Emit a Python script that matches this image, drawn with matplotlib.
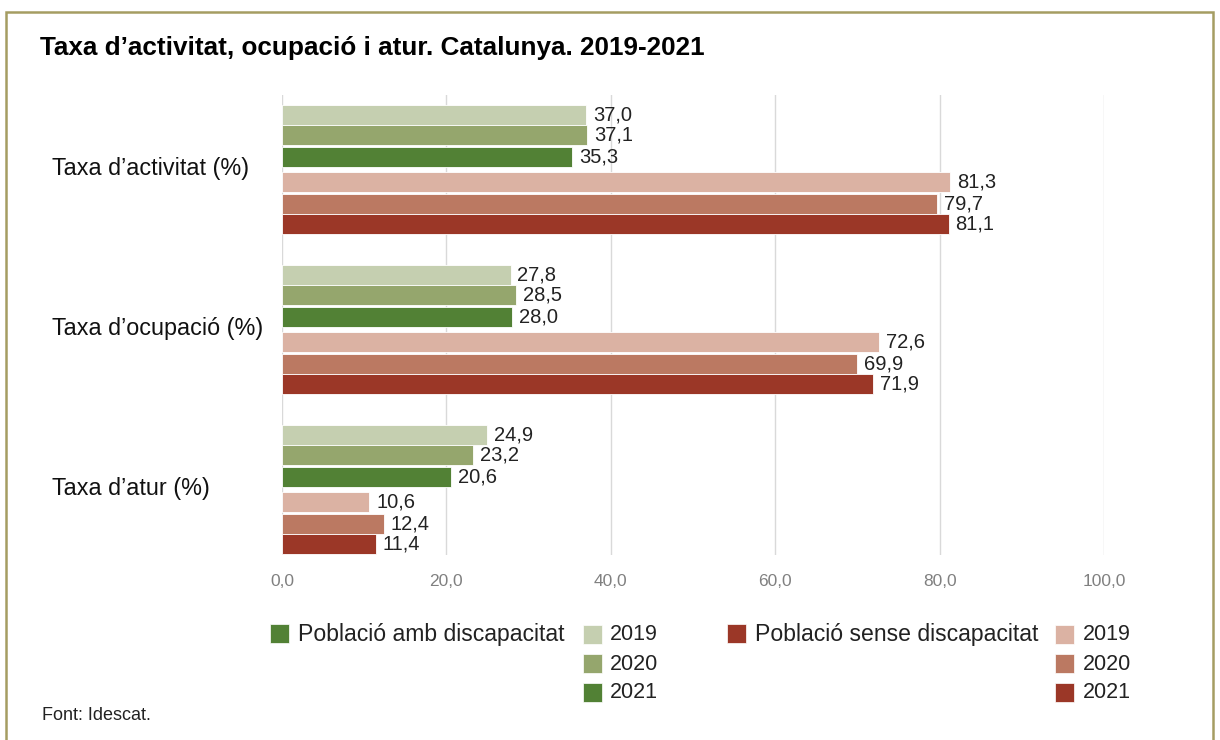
import matplotlib.pyplot as plt
from matplotlib.patches import Rectangle
from matplotlib import font_manager
import numpy as np

plt.rcParams['font.family'] = ['Liberation Sans', 'DejaVu Sans']

categories = ['Taxa d’activitat (%)', 'Taxa d’ocupació (%)', 'Taxa d’atur (%)']
years = ['2019', '2020', '2021']
amb = {'2019': [37.0, 27.8, 24.9], '2020': [37.1, 28.5, 23.2], '2021': [35.3, 28.0, 20.6]}
sense = {'2019': [81.3, 72.6, 10.6], '2020': [79.7, 69.9, 12.4], '2021': [81.1, 71.9, 11.4]}

green = ['#c5cfb0', '#95a66d', '#528135']
red = ['#dbb2a3', '#bb7962', '#9b3727']

names = {f.name for f in font_manager.fontManager.ttflist}
tick_font = 'Liberation Sans Narrow' if 'Liberation Sans Narrow' in names else 'Liberation Sans'
tick_size = 15 if tick_font == 'Liberation Sans Narrow' else 12.5

fig = plt.figure(figsize=(12.2, 7.4), dpi=100)
W, H = 1220, 740
ax = fig.add_axes([282 / W, 1 - 555 / H, 822 / W, 460 / H])

idx = np.arange(len(categories))
h = 0.125
off_g = [-0.34, -0.21, -0.078]
off_r = [0.084, 0.216, 0.344]

for i, y in enumerate(years):
    b = ax.barh(idx + off_g[i], amb[y], height=h, color=green[i], edgecolor='white', linewidth=0.6)
    ax.bar_label(b, labels=[f'{v:.1f}'.replace('.', ',') for v in amb[y]], padding=5, fontsize=14.5, color='#222222')
for i, y in enumerate(years):
    b = ax.barh(idx + off_r[i], sense[y], height=h, color=red[i], edgecolor='white', linewidth=0.6)
    ax.bar_label(b, labels=[f'{v:.1f}'.replace('.', ',') for v in sense[y]], padding=5, fontsize=14.5, color='#222222')

ax.set_xlim(0, 100)
ax.set_ylim(2.4125, -0.4625)
ax.set_xticks(np.arange(0, 101, 20))
ax.set_xticklabels([f'{t:.1f}'.replace('.', ',') for t in np.arange(0, 101, 20)],
                   fontsize=tick_size, color='#808080', family=tick_font)
ax.set_yticks(idx)
ax.set_yticklabels([])
ax.tick_params(length=0, pad=14)
ax.grid(axis='x', color='#d9d9d9', linewidth=1)
ax.set_axisbelow(True)
for s in ax.spines.values():
    s.set_visible(False)

for i, c in enumerate(categories):
    fig.text(52 / W, 1 - (169 + 160 * i) / H, c, fontsize=16.8, va='center', ha='left', color='#111111')

fig.text(40 / W, 1 - 48 / H, 'Taxa d’activitat, ocupació i atur. Catalunya. 2019-2021',
         fontsize=18.8, fontweight='bold', va='center', ha='left')
fig.text(42 / W, 1 - 716 / H, 'Font: Idescat.', fontsize=13, va='center', ha='left', color='#222222')

# legend
def sq(x, y, col):
    fig.patches.append(Rectangle((x / W, 1 - (y + 19) / H), 19 / W, 19 / H, transform=fig.transFigure,
                                 facecolor=col, edgecolor='white', linewidth=0.5))

sq(270, 624, green[2])
fig.text(298 / W, 1 - 634 / H, 'Població amb discapacitat', fontsize=16.6, va='center', ha='left', color='#222222')
sq(727, 624, red[2])
fig.text(755 / W, 1 - 634 / H, 'Població sense discapacitat', fontsize=16.6, va='center', ha='left', color='#222222')
for i, y in enumerate(years):
    sq(583, 625 + 29 * i, green[i])
    fig.text(610 / W, 1 - (635 + 29 * i) / H, y, fontsize=15.5, va='center', ha='left', color='#222222')
    sq(1055, 625 + 29 * i, red[i])
    fig.text(1083 / W, 1 - (635 + 29 * i) / H, y, fontsize=15.5, va='center', ha='left', color='#222222')

fig.patches.append(Rectangle((6 / W, -0.05), 1207 / W, 1.05 - 12 / H, transform=fig.transFigure,
                             fill=False, edgecolor='#a59d62', linewidth=1.8))

fig.savefig('out.png', dpi=100)
